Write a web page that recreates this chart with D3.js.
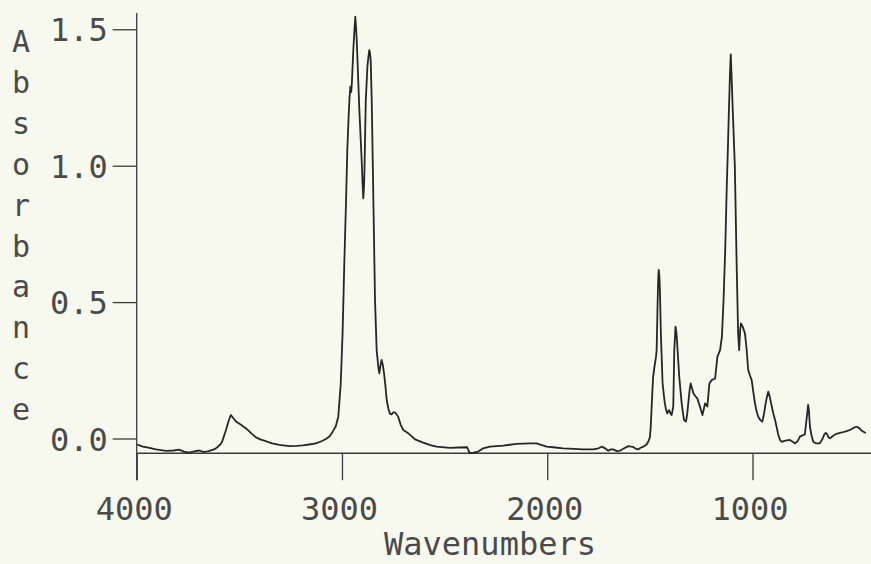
<!DOCTYPE html>
<html>
<head>
<meta charset="utf-8">
<script src="https://cdn.jsdelivr.net/npm/d3@7"></script>
<style>
  html, body { margin: 0; padding: 0; background: #f8f9ee; }
  svg { display: block; }
  text { font-family: "DejaVu Sans Mono", "Liberation Mono", monospace; fill: #4a4a4a; }
</style>
</head>
<body>
<svg id="chart" width="871" height="564"></svg>
<script>
// Infrared spectrum: absorbance vs wavenumber (cm^-1)
const wavenumbers = [
  3998, 3970, 3955, 3906, 3857, 3820, 3794, 3770, 3744, 3720, 3695, 3675, 3654, 3630, 3614, 3595,
  3584, 3575, 3565, 3552, 3541, 3530, 3516, 3492, 3467, 3440, 3419, 3395, 3370, 3340, 3305, 3257,
  3220, 3191, 3160, 3127, 3100, 3078, 3060, 3045, 3030, 3018, 3006, 2997, 2989, 2980, 2974, 2967,
  2963, 2959, 2955, 2952, 2945, 2939, 2935, 2931, 2928, 2922, 2916, 2904, 2899, 2896, 2893, 2891,
  2884, 2876, 2871, 2867, 2863, 2860, 2855, 2847, 2839, 2831, 2823, 2818, 2812, 2807, 2801, 2795,
  2788, 2782, 2774, 2766, 2758, 2750, 2742, 2734, 2726, 2714, 2701, 2677, 2660, 2644, 2604, 2570,
  2539, 2474, 2430, 2390, 2383, 2377, 2360, 2336, 2312, 2279, 2214, 2149, 2084, 2052, 2003, 1960,
  1922, 1870, 1825, 1776, 1750, 1735, 1718, 1703, 1690, 1679, 1660, 1646, 1625, 1605, 1590, 1581,
  1568, 1557, 1545, 1532, 1516, 1508, 1500, 1496, 1492, 1488, 1484, 1478, 1475, 1470, 1467, 1462,
  1459, 1457, 1454, 1451, 1446, 1438, 1432, 1427, 1421, 1415, 1410, 1406, 1400, 1394, 1386, 1381,
  1375, 1371, 1367, 1357, 1345, 1334, 1324, 1318, 1313, 1306, 1301, 1295, 1288, 1278, 1269, 1256,
  1244, 1238, 1231, 1225, 1220, 1210, 1199, 1182, 1171, 1158, 1149, 1141, 1133, 1125, 1120, 1115,
  1110, 1106, 1102, 1096, 1086, 1077, 1070, 1065, 1060, 1056, 1048, 1037, 1029, 1021, 1012, 1004,
  996, 988, 980, 972, 962, 952, 944, 936, 929, 923, 915, 906, 898, 890, 882, 874,
  866, 858, 840, 818, 805, 793, 780, 769, 755, 745, 737, 732, 729, 725, 720, 712,
  704, 690, 672, 658, 650, 643, 636, 629, 622, 610, 595, 582, 565, 541, 520, 505,
  493, 480, 470, 460, 448
];
const absorbance = [
  -0.022, -0.030, -0.032, -0.040, -0.045, -0.044, -0.041, -0.048, -0.052, -0.047, -0.044, -0.049, -0.047, -0.042, -0.036, -0.024,
  -0.012, 0.008, 0.031, 0.065, 0.086, 0.075, 0.062, 0.050, 0.037, 0.018, 0.004, -0.004, -0.010, -0.018, -0.023, -0.028,
  -0.027, -0.025, -0.022, -0.018, -0.010, -0.002, 0.008, 0.025, 0.045, 0.080, 0.200, 0.386, 0.630, 0.874, 1.058, 1.190,
  1.250, 1.290, 1.270, 1.300, 1.420, 1.500, 1.546, 1.500, 1.460, 1.340, 1.216, 1.020, 0.923, 0.880, 0.920, 0.960,
  1.240, 1.363, 1.400, 1.424, 1.410, 1.387, 1.240, 0.874, 0.508, 0.324, 0.263, 0.239, 0.270, 0.288, 0.270, 0.239,
  0.190, 0.141, 0.110, 0.090, 0.088, 0.096, 0.096, 0.088, 0.080, 0.050, 0.031, 0.019, 0.008, -0.003, -0.015, -0.024,
  -0.030, -0.034, -0.033, -0.032, -0.045, -0.054, -0.052, -0.048, -0.036, -0.030, -0.026, -0.020, -0.018, -0.018, -0.030, -0.033,
  -0.036, -0.038, -0.040, -0.040, -0.036, -0.030, -0.036, -0.045, -0.040, -0.040, -0.046, -0.045, -0.036, -0.028, -0.030, -0.031,
  -0.038, -0.040, -0.034, -0.030, -0.022, -0.012, 0.004, 0.040, 0.104, 0.170, 0.227, 0.260, 0.276, 0.300, 0.324, 0.508,
  0.590, 0.618, 0.600, 0.544, 0.373, 0.202, 0.160, 0.129, 0.105, 0.092, 0.100, 0.104, 0.092, 0.086, 0.117, 0.324,
  0.410, 0.390, 0.349, 0.227, 0.129, 0.068, 0.062, 0.090, 0.129, 0.180, 0.202, 0.185, 0.166, 0.155, 0.147, 0.117,
  0.086, 0.105, 0.129, 0.122, 0.117, 0.202, 0.214, 0.220, 0.300, 0.324, 0.373, 0.508, 0.690, 0.935, 1.060, 1.200,
  1.330, 1.408, 1.330, 1.200, 0.996, 0.630, 0.386, 0.324, 0.400, 0.422, 0.410, 0.386, 0.330, 0.251, 0.230, 0.214,
  0.170, 0.129, 0.100, 0.080, 0.068, 0.062, 0.090, 0.129, 0.155, 0.172, 0.150, 0.117, 0.090, 0.068, 0.040, 0.013,
  -0.005, -0.012, -0.008, -0.005, -0.012, -0.018, -0.010, 0.007, 0.012, 0.015, 0.068, 0.100, 0.123, 0.100, 0.043, 0.010,
  -0.012, -0.018, -0.018, 0.000, 0.015, 0.021, 0.015, 0.003, 0.001, 0.008, 0.016, 0.019, 0.022, 0.027, 0.033, 0.040,
  0.043, 0.038, 0.030, 0.025, 0.020
];
const xTickValues = [4000, 3000, 2000, 1000];
const yTickValues = [0, 0.5, 1.0, 1.5];
const yTickLabels = ["0.0", "0.5", "1.0", "1.5"];
const yTitle = "Absorbance";
const xTitle = "Wavenumbers";

const svg = d3.select("#chart");
const W = 871;

// Scales: wavenumber axis runs right-to-left (4000 -> 450)
const x = d3.scaleLinear().domain([4000, 1000]).range([136.7, 752.5]);
const y = d3.scaleLinear().domain([0, 1.5]).range([438.5, 29.3]);

const axisColor = "#3a3a3a";
const axisBaseVal = -0.054;   // baseline of the frame (x axis) in absorbance units
const yAxisTop = 1.56;
const tickDrop = 27;

// Y axis vertical line (extends below the x axis, as on the plotter chart)
svg.append("line")
  .attr("x1", x(4000)).attr("x2", x(4000))
  .attr("y1", y(yAxisTop)).attr("y2", y(axisBaseVal) + tickDrop)
  .attr("stroke", axisColor).attr("stroke-width", 1.3);

// X axis horizontal line
svg.append("line")
  .attr("x1", x(4000)).attr("x2", W)
  .attr("y1", y(axisBaseVal)).attr("y2", y(axisBaseVal))
  .attr("stroke", axisColor).attr("stroke-width", 1.3);

// Y axis ticks and labels
const yAxis = d3.axisLeft(y)
  .tickValues(yTickValues)
  .tickFormat((d, i) => yTickLabels[i])
  .tickSize(24)
  .tickPadding(6);
const gy = svg.append("g")
  .attr("transform", `translate(${x(4000)},0)`)
  .call(yAxis);
gy.select(".domain").remove();
gy.selectAll(".tick line").attr("stroke", axisColor).attr("stroke-width", 1.3);
gy.selectAll(".tick text")
  .attr("x", -29)
  .attr("dy", "0.36em")
  .style("font-size", "32px")
  .attr("fill", "#4a4a4a");

// X axis ticks and labels
const xAxis = d3.axisBottom(x)
  .tickValues(xTickValues)
  .tickFormat(d3.format("d"))
  .tickSize(tickDrop);
const gx = svg.append("g")
  .attr("transform", `translate(0,${y(axisBaseVal)})`)
  .call(xAxis);
gx.select(".domain").remove();
gx.selectAll(".tick line").attr("stroke", axisColor).attr("stroke-width", 1.3);
gx.selectAll(".tick text")
  .attr("x", -3)
  .attr("y", 66.5)
  .attr("dy", 0)
  .style("font-size", "32px")
  .attr("fill", "#4a4a4a");

// Spectrum trace
const points = wavenumbers.map((w, i) => [w, absorbance[i]]);
svg.append("path")
  .datum(points)
  .attr("fill", "none")
  .attr("stroke", "#262626")
  .attr("stroke-width", 1.8)
  .attr("stroke-linejoin", "round")
  .attr("d", d3.line().x(d => x(d[0])).y(d => y(d[1])));

// Vertical axis title, one letter per line
svg.append("g")
  .selectAll("text")
  .data(yTitle.split(""))
  .join("text")
  .attr("x", 21)
  .attr("y", (d, i) => 52 + i * 40.9)
  .attr("text-anchor", "middle")
  .style("font-size", "30px")
  .text(d => d);

// Horizontal axis title
svg.append("text")
  .attr("x", 490)
  .attr("y", 555)
  .attr("text-anchor", "middle")
  .style("font-size", "32px")
  .text(xTitle);
</script>
</body>
</html>
